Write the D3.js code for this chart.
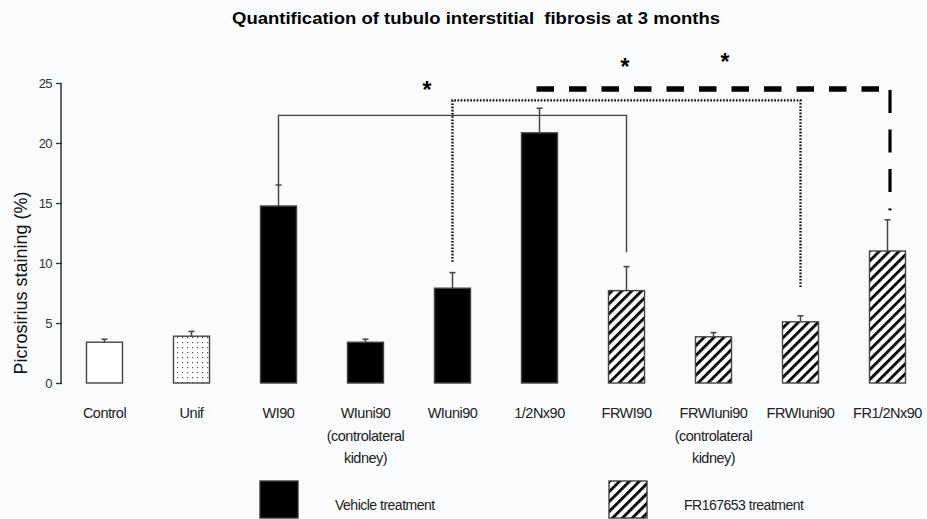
<!DOCTYPE html>
<html>
<head>
<meta charset="utf-8">
<script src="https://cdn.jsdelivr.net/npm/d3@7"></script>
<style>
  html, body { margin: 0; padding: 0; background: #f9fbfd; }
  svg { display: block; font-family: "Liberation Sans", Arial, sans-serif; }
</style>
</head>
<body>
<svg id="chart" width="927" height="519"></svg>
<script>
// Groups along the x axis (line breaks separated by "|")
const categories = [
  "Control", "Unif", "WI90", "WIuni90|(controlateral|kidney)", "WIuni90",
  "1/2Nx90", "FRWI90", "FRWIuni90|(controlateral|kidney)", "FRWIuni90", "FR1/2Nx90"
];
// Mean picrosirius staining (%)
const means = [3.4, 3.9, 14.75, 3.4, 7.9, 20.85, 7.7, 3.85, 5.1, 11.0];
// Mean + SEM (top of the error bar)
const upper = [3.65, 4.3, 16.5, 3.65, 9.2, 22.9, 9.7, 4.2, 5.6, 13.6];
// Fill style of each group
const fills = ["open", "dots", "vehicle", "vehicle", "vehicle", "vehicle", "fr", "fr", "fr", "fr"];
const yTicks = [0, 5, 10, 15, 20, 25];

// Significance brackets: from group a to group b, at level, dropping to the given ends
const brackets = [
  { a: 2, b: 6, level: 22.3, endA: 16.5, endB: 10.9, style: "solid" },
  { a: 4, b: 8, level: 23.55, endA: 10.1, endB: 8.0, style: "dotted" },
  { a: 5, b: 9, level: 24.5, endA: 24.5, endB: 14.4, style: "dashed" }
];
// Stars: position on the slot axis and height in % units
const stars = [
  { slot: 4.207, level: 24.85 },
  { slot: 6.483, level: 26.75 },
  { slot: 7.632, level: 27.17 }
];
const legendItems = [
  { fill: "vehicle", label: "Vehicle treatment" },
  { fill: "fr", label: "FR167653 treatment" }
];

const svg = d3.select("#chart");
const defs = svg.append("defs");

// Diagonal hatching for FR167653-treated groups
const hatch = defs.append("pattern")
  .attr("id", "hatch").attr("patternUnits", "userSpaceOnUse")
  .attr("width", 7).attr("height", 7)
  .attr("patternTransform", "rotate(45)");
hatch.append("rect").attr("width", 7).attr("height", 7).attr("fill", "#fff");
hatch.append("rect").attr("x", 0).attr("y", 0).attr("width", 2.8).attr("height", 7).attr("fill", "#000");

// Stippled fill for Unif
const dots = defs.append("pattern")
  .attr("id", "dots").attr("patternUnits", "userSpaceOnUse")
  .attr("width", 5).attr("height", 10);
dots.append("rect").attr("width", 5).attr("height", 10).attr("fill", "#fff");
dots.append("rect").attr("x", 2).attr("y", 2).attr("width", 1.2).attr("height", 1.2).attr("fill", "#555");
dots.append("rect").attr("x", 2).attr("y", 7).attr("width", 1.2).attr("height", 1.2).attr("fill", "#555");

const fillFor = f => f === "vehicle" ? "#000" : f === "fr" ? "url(#hatch)" : f === "dots" ? "url(#dots)" : "#fff";

const x = d3.scaleBand().domain(categories).range([61, 931])
  .paddingInner(0.586).paddingOuter(0.293);
const slot = d3.scaleLinear().domain([0, categories.length]).range([61, 931]);
const y = d3.scaleLinear().domain([0, 25]).range([383, 83]);
const cx = i => x(categories[i]) + x.bandwidth() / 2;

// Title
svg.append("text")
  .attr("x", 476).attr("y", 24)
  .attr("text-anchor", "middle")
  .attr("font-weight", "bold").attr("font-size", 17)
  .attr("textLength", 488).attr("lengthAdjust", "spacingAndGlyphs")
  .style("white-space", "pre")
  .attr("fill", "#000")
  .text("Quantification of tubulo interstitial  fibrosis at 3 months");

// Y axis
const yAxis = svg.append("g")
  .attr("transform", "translate(61,0)")
  .call(d3.axisLeft(y).tickValues(yTicks).tickSize(5).tickSizeOuter(0).tickPadding(4));
yAxis.select(".domain").attr("stroke", "#333").attr("stroke-width", 1.5)
  .attr("d", `M0,${y(0)}V${y(25)}`);
yAxis.selectAll(".tick line").attr("stroke", "#333").attr("stroke-width", 1.3).attr("x2", -5).attr("x1", 1);
yAxis.selectAll(".tick text")
  .attr("font-size", 13).attr("fill", "#333")
  .attr("font-family", "'Liberation Sans', Arial, sans-serif")
  .attr("letter-spacing", -0.6);

svg.append("text")
  .attr("transform", `translate(27,${283}) rotate(-90)`)
  .attr("text-anchor", "middle")
  .attr("font-size", 18).attr("fill", "#111")
  .text("Picrosirius staining (%)");

// Bars
svg.append("g").selectAll("rect")
  .data(categories)
  .join("rect")
  .attr("x", d => x(d))
  .attr("y", (d, i) => y(means[i]))
  .attr("width", x.bandwidth())
  .attr("height", (d, i) => y(0) - y(means[i]))
  .attr("fill", (d, i) => fillFor(fills[i]))
  .attr("stroke", "#444").attr("stroke-width", 1.4);

// Error bars (upper half only)
const err = svg.append("g").attr("stroke", "#444").attr("stroke-width", 1.5);
categories.forEach((d, i) => {
  err.append("line").attr("x1", cx(i)).attr("x2", cx(i)).attr("y1", y(means[i])).attr("y2", y(upper[i]));
  err.append("line").attr("x1", cx(i) - 3).attr("x2", cx(i) + 3).attr("y1", y(upper[i])).attr("y2", y(upper[i]));
});

// Category labels
const labels = svg.append("g");
categories.forEach((d, i) => {
  const t = labels.append("text")
    .attr("x", cx(i)).attr("y", 418)
    .attr("text-anchor", "middle")
    .attr("font-size", 14.5).attr("letter-spacing", -0.5).attr("fill", "#222");
  d.split("|").forEach((line, k) => {
    t.append("tspan").attr("x", cx(i)).attr("dy", k === 0 ? 0 : 22.5).text(line);
  });
});

// Significance brackets
const br = svg.append("g").attr("fill", "none");
brackets.forEach(b => {
  if (b.style === "dashed") {
    const xv = cx(b.b) + 2.5;
    br.append("line")
      .attr("x1", cx(b.a) - 3).attr("x2", xv - 11).attr("y1", y(b.level)).attr("y2", y(b.level))
      .attr("stroke", "#000").attr("stroke-width", 5.5).attr("stroke-dasharray", "17.5,15");
    br.append("line")
      .attr("x1", xv).attr("x2", xv).attr("y1", y(b.level) + 1).attr("y2", y(b.endB))
      .attr("stroke", "#000").attr("stroke-width", 3.2).attr("stroke-dasharray", "23,16.5");
  } else {
    const path = d3.path();
    path.moveTo(cx(b.a), y(b.endA));
    path.lineTo(cx(b.a), y(b.level));
    path.lineTo(cx(b.b), y(b.level));
    path.lineTo(cx(b.b), y(b.endB));
    const p = br.append("path").attr("d", path.toString());
    if (b.style === "dotted") {
      p.attr("stroke", "#000").attr("stroke-width", 2.3).attr("stroke-dasharray", "1.6,1.6");
    } else {
      p.attr("stroke", "#444").attr("stroke-width", 1.4);
    }
  }
});

// Stars
svg.append("g").selectAll("text")
  .data(stars)
  .join("text")
  .attr("x", d => slot(d.slot))
  .attr("y", d => y(d.level) + 13)
  .attr("text-anchor", "middle")
  .attr("font-weight", "bold").attr("font-size", 23).attr("fill", "#000")
  .text("*");

// Legend
const legend = svg.append("g");
legendItems.forEach((d, i) => {
  const gx = i === 0 ? 260 : 609;
  legend.append("rect")
    .attr("x", gx).attr("y", 481).attr("width", 38).attr("height", 37)
    .attr("fill", fillFor(d.fill)).attr("stroke", "#333").attr("stroke-width", 1.3);
  legend.append("text")
    .attr("x", gx + 75).attr("y", 510)
    .attr("font-size", 14).attr("letter-spacing", -0.5).attr("fill", "#222")
    .text(d.label);
});
</script>
</body>
</html>
